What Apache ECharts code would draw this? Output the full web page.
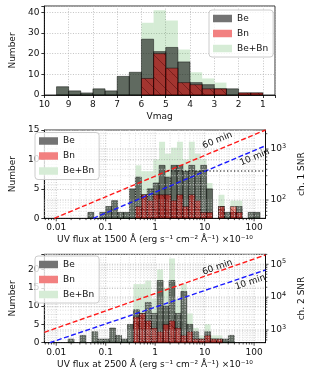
<!DOCTYPE html>
<html><head><meta charset="utf-8">
<script src="https://cdn.jsdelivr.net/npm/echarts/dist/echarts.min.js"></script>
<style>html,body{margin:0;padding:0;background:#fff}#c{width:314px;height:378px}</style>
</head><body><div id="c"></div>
<script>
// ---------------- DATA ----------------
// Panel 1: V magnitude histogram (bin edges, faint -> bright)
const vmagEdges = [9.5,9,8.5,8,7.5,7,6.5,6,5.5,5,4.5,4,3.5,3,2.5,2,1.5,1];
const vmagBe  = [4,2,1,3,2,9,11,27,21,23,16,6,5,3,3,1,1];
const vmagBn  = [0,0,0,0,0,0,0,8,20,13,6,5,3,3,0,1,1];
const vmagAll = [4,2,1,3,2,9,11,35,41,36,22,11,8,6,3,1,1];

// Panel 2: UV flux at 1500 A (log10 bin edges, units 1e-10)
const uv1500LogEdges = [-1.36,-1.24,-1.12,-1.00,-0.88,-0.76,-0.64,-0.52,-0.40,-0.28,-0.16,-0.04,0.08,0.20,0.32,0.44,0.56,0.68,0.80,0.92,1.04,1.16,1.28,1.40,1.52,1.64,1.76,1.88,2.00,2.12];
const uv1500Be  = [1,0,1,2,3,1,1,5,7,4,5,6,9,7,9,9,8,9,8,9,5,0,2,1,1,2,0,1,1];
const uv1500Bn  = [0,0,0,0,0,0,0,0,2,4,3,4,4,4,3,4,2,4,3,1,1,0,2,0,2,1,0,0,0];
const uv1500All = [1,0,1,2,3,1,1,5,9,8,8,10,13,11,12,13,10,13,11,10,6,0,4,1,3,3,0,1,1];

// Panel 3: UV flux at 2500 A
const uv2500LogEdges = [-1.76,-1.64,-1.52,-1.40,-1.28,-1.16,-1.04,-0.92,-0.80,-0.68,-0.56,-0.44,-0.32,-0.20,-0.08,0.04,0.16,0.28,0.40,0.52,0.64,0.76,0.88,1.00,1.12,1.24,1.36,1.48,1.60];
const uv2500Be  = [1,0,2,0,3,1,1,4,2,1,5,9,8,11,8,17,10,17,8,14,5,3,1,3,1,1,1,2];
const uv2500Bn  = [0,0,0,0,0,0,0,0,0,0,0,7,8,6,4,3,5,6,4,2,3,1,1,2,1,1,0,0];
const uv2500All = [1,0,2,0,3,1,1,4,2,1,5,16,16,17,12,20,15,23,12,16,8,4,2,5,2,2,1,2];

// SNR vs flux lines [flux, SNR]
const snr1500Exp60 = [[0.00915,43.8],[170,2361]];
const snr1500Exp10 = [[0.056,43.8],[170,1160]];
const snr1500Limit = [[1.77,371],[170,371]];
const snr2500Exp60 = [[0.00575,851],[170,1.92e5]];
const snr2500Exp10 = [[0.0074,411],[170,6.7e4]];
const lbl1500 = [[18.1,1482,'60 min'],[103,687,'10 min']];
const lbl2500 = [[18.1,8.1e4,'60 min'],[83.4,2.84e4,'10 min']];

const legendNames = ['Be','Bn','Be+Bn'];

// ---------------- STYLE ----------------
const FONT = 'DejaVu Sans';
const C_ALL = 'rgba(44,160,44,0.2)';
const C_BE  = 'rgba(0,0,0,0.55)';
const C_BN  = 'rgba(230,0,0,0.5)';
const EDGE  = 'rgba(0,0,0,0.75)';
const XMIN = 0.00575, XMAX = 170;

function barRender(fill, stroke, hatch) {
  return function (params, api) {
    const h = api.value(2);
    if (!(h > 0)) return null;
    const p0 = api.coord([api.value(0), h]);
    const p1 = api.coord([api.value(1), 0]);
    const x = Math.min(p0[0], p1[0]), y = Math.min(p0[1], p1[1]);
    const w = Math.abs(p1[0] - p0[0]), hh = Math.abs(p1[1] - p0[1]);
    const children = [{type:'rect', shape:{x:x, y:y, width:w, height:hh},
      style:{fill:fill, stroke: stroke || 'none', lineWidth:0.6}}];
    if (hatch) {
      const s = 11;
      const cMin = y - (x + w), cMax = y + hh - x;
      for (let c = Math.ceil(cMin / s) * s; c <= cMax; c += s) {
        const xa = Math.max(x, y - c), xb = Math.min(x + w, y + hh - c);
        if (xb - xa > 0.5) children.push({type:'line', shape:{x1:xa, y1:xa + c, x2:xb, y2:xb + c},
          style:{stroke:'rgba(60,0,0,0.6)', lineWidth:0.7}});
      }
    }
    return {type:'group', children:children};
  };
}

function hist(name, xi, yi, edges, counts, isLog, fill, stroke, hatch, z) {
  const data = counts.map((c, i) => isLog
    ? [Math.pow(10, edges[i]), Math.pow(10, edges[i + 1]), c]
    : [edges[i], edges[i + 1], c]);
  return {type:'custom', name:name, xAxisIndex:xi, yAxisIndex:yi, data:data,
    encode:{x:[0,1], y:2}, renderItem:barRender(fill, stroke, hatch), z:z, silent:true, animation:false};
}

function logTickVals(lo, hi) {
  const out = [];
  for (let k = Math.floor(Math.log10(lo)); k <= Math.ceil(Math.log10(hi)); k++)
    for (let m = 1; m <= 9; m++) {
      const v = m * Math.pow(10, k);
      if (v > lo * 1.0001 && v < hi / 1.0001) out.push([v, m === 1 ? 1 : 0]);
    }
  return out;
}

function vGrid(xi, yi, lo, hi) {
  return {type:'custom', xAxisIndex:xi, yAxisIndex:yi, silent:true, animation:false, z:5,
    data: logTickVals(lo, hi).map(t => [t[0], 0, t[1]]), encode:{x:0, y:1},
    renderItem: function (params, api) {
      const cs = params.coordSys;
      const x = api.coord([api.value(0), 0])[0];
      const major = api.value(2) === 1;
      const yb = cs.y + cs.height;
      return {type:'group', children:[
        {type:'line', shape:{x1:x, y1:cs.y, x2:x, y2:yb},
         style:{stroke: major ? '#ababab' : '#d4d4d4', lineWidth:0.8, lineDash:[1,1.6]}},
        {type:'line', shape:{x1:x, y1:yb, x2:x, y2:yb + (major ? 3 : 1.8)},
         style:{stroke:'#000', lineWidth:0.7}}]};
    }};
}

function hGrid(xi, yi, lo, hi) {
  return {type:'custom', xAxisIndex:xi, yAxisIndex:yi, silent:true, animation:false, z:5,
    data: logTickVals(lo, hi).map(t => [1, t[0], t[1]]), encode:{x:0, y:1},
    renderItem: function (params, api) {
      const cs = params.coordSys;
      const y = api.coord([1, api.value(1)])[1];
      const major = api.value(2) === 1;
      const xr = cs.x + cs.width;
      return {type:'group', children:[
        {type:'line', shape:{x1:cs.x, y1:y, x2:xr, y2:y},
         style:{stroke: major ? '#ababab' : '#d4d4d4', lineWidth:0.8, lineDash:[1,1.6]}},
        {type:'line', shape:{x1:xr, y1:y, x2:xr + (major ? 3 : 1.8), y2:y},
         style:{stroke:'#000', lineWidth:0.7}}]};
    }};
}

function snrLine(xi, yi, data, color, dash, width) {
  return {type:'line', xAxisIndex:xi, yAxisIndex:yi, data:data, symbol:'none', showSymbol:false,
    lineStyle:{color:color, width:width, type:dash}, z:6, silent:true, animation:false};
}

function labels(xi, yi, lbls, lines) {
  return {type:'custom', xAxisIndex:xi, yAxisIndex:yi, silent:true, animation:false, z:7,
    data: lbls.map(d => [d[0], d[1]]), encode:{x:0, y:1},
    renderItem: function (params, api) {
      const d = lbls[params.dataIndex], ln = lines[params.dataIndex];
      const a = api.coord(ln[0]), b = api.coord(ln[1]);
      const ang = Math.atan2(a[1] - b[1], b[0] - a[0]);
      const p = api.coord([d[0], d[1]]);
      return {type:'text', x:p[0], y:p[1], rotation:ang,
        style:{text:d[2], fill:'#111', font:'9px "' + FONT + '"', align:'center', verticalAlign:'middle'}};
    }};
}

const isPow10 = v => { const l = Math.log10(v); return Math.abs(l - Math.round(l)) < 1e-6; };
const axisLine = {lineStyle:{color:'#000', width:0.8}};
const tickStyle = {length:3, lineStyle:{color:'#000', width:0.8}};
const lbl = {fontSize:9, color:'#111', fontFamily:FONT};
const nameStyle = {fontSize:9, color:'#111', fontFamily:FONT};
const split = {show:true, lineStyle:{type:[1,1.6], color:'#b4b4b4', width:0.8}};

const xLogLabel = Object.assign({}, lbl, {margin:5, interval:0,
  formatter: v => isPow10(v) ? String(+(+v).toPrecision(1)) : ''});
const yLogLabel = {margin:5, interval:0, color:'#111',
  formatter: v => isPow10(v) ? '{a|10}{b|' + Math.round(Math.log10(v)) + '}' : '',
  rich:{a:{fontSize:9, color:'#111', fontFamily:FONT}, b:{fontSize:6.5, color:'#111', fontFamily:FONT, padding:[0,0,5,0]}}};

function leftY(gi, max, interval) {
  return {gridIndex:gi, type:'value', min:0, max:max, interval:interval,
    name:'Number', nameLocation:'middle', nameGap:20, nameRotate:90, nameTextStyle:nameStyle,
    axisLine:Object.assign({show:true}, axisLine), axisTick:tickStyle,
    axisLabel:Object.assign({}, lbl, {margin:5, formatter: v => (Math.abs(v / interval - Math.round(v / interval)) < 1e-6 ? String(v) : '')}),
    splitLine:split};
}
function rightY(gi, min, max, name) {
  return {gridIndex:gi, type:'log', logBase:10, min:min, max:max, position:'right',
    name:name, nameLocation:'middle', nameGap:23, nameRotate:90, nameTextStyle:nameStyle,
    axisLine:Object.assign({show:true}, axisLine), axisTick:{show:false},
    axisLabel:yLogLabel, splitLine:{show:false}, minorTick:{show:false}};
}
function logX(gi, name) {
  return {gridIndex:gi, type:'log', logBase:10, min:XMIN, max:XMAX,
    name:name, nameLocation:'middle', nameGap:17, nameTextStyle:nameStyle,
    axisLine:Object.assign({show:true}, axisLine), axisTick:{show:false},
    axisLabel:xLogLabel, splitLine:{show:false}};
}

const gridBase = {show:true, borderColor:'#000', borderWidth:0.8, backgroundColor:'transparent', containLabel:false};

function legend(left, top) {
  return {orient:'vertical', left:left, top:top, z:20, zlevel:0, itemWidth:19, itemHeight:7.5, itemGap:6,
    padding:[4,5,4,4], backgroundColor:'rgba(255,255,255,0.8)', borderColor:'#cccccc',
    borderWidth:1, borderRadius:3, icon:'rect', selectedMode:false,
    textStyle:{fontSize:9, color:'#111', fontFamily:FONT},
    data:[{name:legendNames[0], itemStyle:{color:'#737373'}},
          {name:legendNames[1], itemStyle:{color:'#f28080'}},
          {name:legendNames[2], itemStyle:{color:'#d6ecd6'}}]};
}

const uvName1 = 'UV flux at 1500 Å (erg s⁻¹ cm⁻² Å⁻¹) ×10⁻¹⁰';
const uvName2 = 'UV flux at 2500 Å (erg s⁻¹ cm⁻² Å⁻¹) ×10⁻¹⁰';

const option = {
  animation:false,
  backgroundColor:'#fff',
  textStyle:{fontFamily:FONT},
  grid:[
    Object.assign({left:32.3, top:6, width:242.7, height:89}, gridBase),
    Object.assign({left:32.3, top:130, width:242.7, height:88.3}, gridBase),
    Object.assign({left:32.3, top:254.3, width:242.7, height:88.4}, gridBase)
  ],
  legend:[legend(209,10), legend(35,132.5), legend(35,256)],
  xAxis:[
    {gridIndex:0, type:'value', min:0.5, max:10, inverse:true, splitNumber:10,
     name:'Vmag', nameLocation:'middle', nameGap:17, nameTextStyle:nameStyle,
     axisLine:Object.assign({show:true}, axisLine), axisTick:tickStyle,
     axisLabel:Object.assign({}, lbl, {margin:5, interval:0, formatter: v => Number.isInteger(v) ? String(v) : ''}),
     splitLine:split},
    logX(1, uvName1),
    logX(2, uvName2)
  ],
  yAxis:[
    leftY(0, 43.05, 10),
    leftY(1, 15, 5),
    rightY(1, 43.8, 2361, 'ch. 1 SNR'),
    leftY(2, 24.15, 5),
    rightY(2, 411, 2.01e5, 'ch. 2 SNR')
  ],
  series:[
    // panel 1
    hist('Be+Bn', 0, 0, vmagEdges, vmagAll, false, C_ALL, null, false, 2),
    hist('Be', 0, 0, vmagEdges, vmagBe, false, C_BE, EDGE, false, 3),
    hist('Bn', 0, 0, vmagEdges, vmagBn, false, C_BN, EDGE, true, 4),
    // panel 2
    hist('Be+Bn', 1, 1, uv1500LogEdges, uv1500All, true, C_ALL, null, false, 2),
    hist('Be', 1, 1, uv1500LogEdges, uv1500Be, true, C_BE, EDGE, false, 3),
    hist('Bn', 1, 1, uv1500LogEdges, uv1500Bn, true, C_BN, EDGE, true, 4),
    vGrid(1, 1, XMIN, XMAX),
    hGrid(1, 2, 43.8, 2361),
    snrLine(1, 2, snr1500Exp60, '#ff1a1a', [5,2.5], 1.4),
    snrLine(1, 2, snr1500Exp10, '#1a1aff', [5,2.5], 1.4),
    snrLine(1, 2, snr1500Limit, '#000', [1.3,2.2], 1.1),
    labels(1, 2, lbl1500, [snr1500Exp60, snr1500Exp10]),
    // panel 3
    hist('Be+Bn', 2, 3, uv2500LogEdges, uv2500All, true, C_ALL, null, false, 2),
    hist('Be', 2, 3, uv2500LogEdges, uv2500Be, true, C_BE, EDGE, false, 3),
    hist('Bn', 2, 3, uv2500LogEdges, uv2500Bn, true, C_BN, EDGE, true, 4),
    vGrid(2, 3, XMIN, XMAX),
    hGrid(2, 4, 411, 2.01e5),
    snrLine(2, 4, snr2500Exp60, '#ff1a1a', [5,2.5], 1.4),
    snrLine(2, 4, snr2500Exp10, '#1a1aff', [5,2.5], 1.4),
    labels(2, 4, lbl2500, [snr2500Exp60, snr2500Exp10])
  ]
};

const chart = echarts.init(document.getElementById('c'), null, {renderer:'canvas', width:314, height:378});
chart.setOption(option);
</script>
</body></html>
